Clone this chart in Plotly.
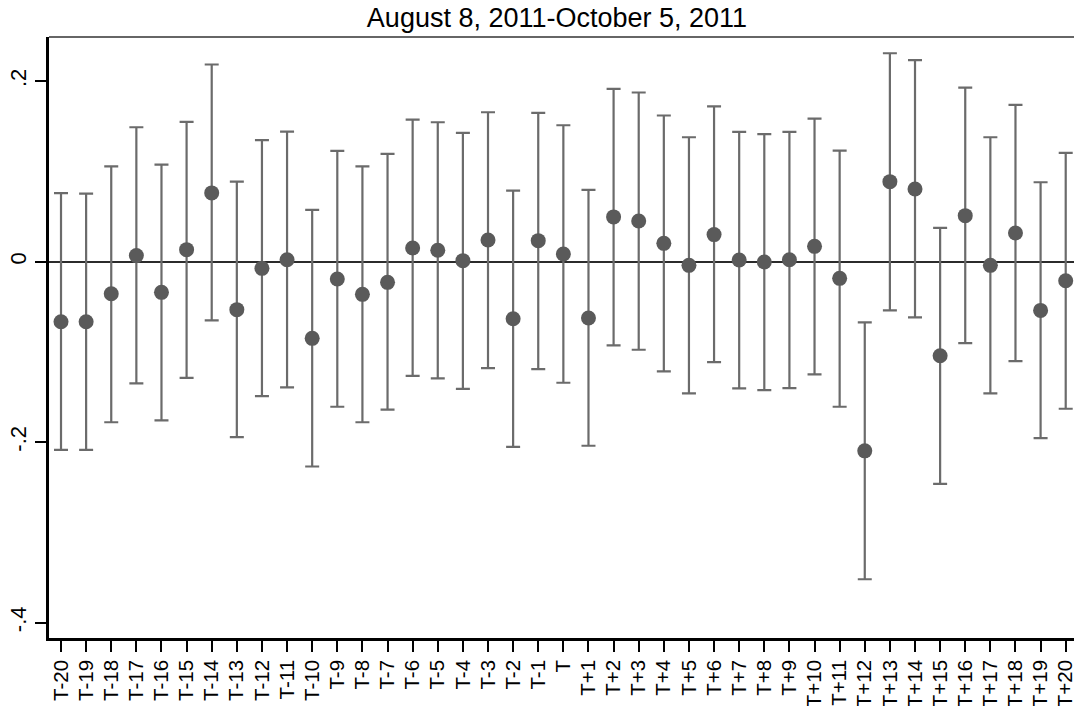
import plotly.graph_objects as go

labels = ["T-20", "T-19", "T-18", "T-17", "T-16", "T-15", "T-14", "T-13", "T-12", "T-11",
          "T-10", "T-9", "T-8", "T-7", "T-6", "T-5", "T-4", "T-3", "T-2", "T-1", "T",
          "T+1", "T+2", "T+3", "T+4", "T+5", "T+6", "T+7", "T+8", "T+9", "T+10",
          "T+11", "T+12", "T+13", "T+14", "T+15", "T+16", "T+17", "T+18", "T+19", "T+20"]

estimate = [-0.0666, -0.0666, -0.0355, 0.0067, -0.034, 0.0133, 0.0762, -0.0532, -0.0074, 0.0022,
            -0.085, -0.0192, -0.0362, -0.0229, 0.0152, 0.0126, 0.0011, 0.024, -0.0632, 0.0233, 0.0085,
            -0.0625, 0.0496, 0.0451, 0.0203, -0.0041, 0.030, 0.0018, -0.0004, 0.0022, 0.017,
            -0.0185, -0.2097, 0.0887, 0.0806, -0.1043, 0.051, -0.0041, 0.0318, -0.054, -0.0211]

upper = [0.076, 0.0754, 0.1057, 0.149, 0.1076, 0.155, 0.2185, 0.0887, 0.1346, 0.1442,
         0.0573, 0.1228, 0.1057, 0.1194, 0.1575, 0.1545, 0.1427, 0.1656, 0.0788, 0.165, 0.1512,
         0.0795, 0.1915, 0.1875, 0.162, 0.1379, 0.172, 0.1438, 0.1413, 0.1438, 0.1586,
         0.1231, -0.0673, 0.231, 0.2233, 0.0374, 0.193, 0.1379, 0.1738, 0.088, 0.1206]

lower = [-0.2085, -0.2085, -0.178, -0.135, -0.176, -0.1287, -0.065, -0.1945, -0.149, -0.1394,
         -0.227, -0.1608, -0.178, -0.164, -0.1265, -0.1294, -0.1409, -0.118, -0.2052, -0.119, -0.1342,
         -0.204, -0.0928, -0.0976, -0.1217, -0.146, -0.1113, -0.1405, -0.1424, -0.1401, -0.125,
         -0.1608, -0.352, -0.054, -0.0617, -0.2463, -0.0902, -0.146, -0.1102, -0.1956, -0.163]

ytick_vals = [-0.4, -0.2, 0, 0.2]
ytick_text = ["-.4", "-.2", "0", ".2"]

title_text = "August 8, 2011-October 5, 2011"

err_plus = [u - e for u, e in zip(upper, estimate)]
err_minus = [e - l for e, l in zip(estimate, lower)]

fig = go.Figure()
fig.add_trace(go.Scatter(
    x=labels, y=estimate, mode="markers",
    marker=dict(size=15, color="#5a5a5a"),
    error_y=dict(type="data", symmetric=False, array=err_plus, arrayminus=err_minus,
                 color="#6b6b6b", thickness=2.2, width=7),
    showlegend=False,
))

font_family = "Liberation Sans, Arial, sans-serif"

fig.update_layout(
    width=1074, height=706,
    margin=dict(l=49, r=0, t=37, b=68),
    paper_bgcolor="white", plot_bgcolor="white",
    font=dict(family=font_family, color="black"),
    title=dict(text=title_text, x=557 / 1074, xanchor="center", xref="container",
               y=1 - 18 / 706, yanchor="middle", yref="container",
               font=dict(size=27, family=font_family, color="black")),
    xaxis=dict(
        type="category", range=[-0.478, 40.33],
        tickmode="array", tickvals=labels, ticktext=labels,
        automargin=False,
        showgrid=False, zeroline=False,
        showline=True, linecolor="black", linewidth=2.5,
        ticks="outside", ticklen=11, tickwidth=1.6, tickcolor="black",
        ticklabelstandoff=0,
        tickangle=-90, tickfont=dict(size=20.5, family=font_family, color="black"),
    ),
    yaxis=dict(
        range=[-0.4171, 0.249],
        tickmode="array", tickvals=ytick_vals, ticktext=ytick_text,
        automargin=False,
        showgrid=False,
        zeroline=True, zerolinecolor="#2b2b2b", zerolinewidth=2,
        showline=True, linecolor="black", linewidth=2.5,
        ticks="outside", ticklen=11, tickwidth=1.6, tickcolor="black",
        tickangle=-90, tickfont=dict(size=22, family=font_family, color="black"),
    ),
    shapes=[dict(type="line", xref="paper", yref="paper", x0=0, x1=1, y0=1, y1=1,
                 line=dict(color="#333333", width=1.6))],
)

fig.write_html("out.html", config={"displayModeBar": False},
               post_script="document.body.style.margin='0';document.body.style.overflow='hidden';")
